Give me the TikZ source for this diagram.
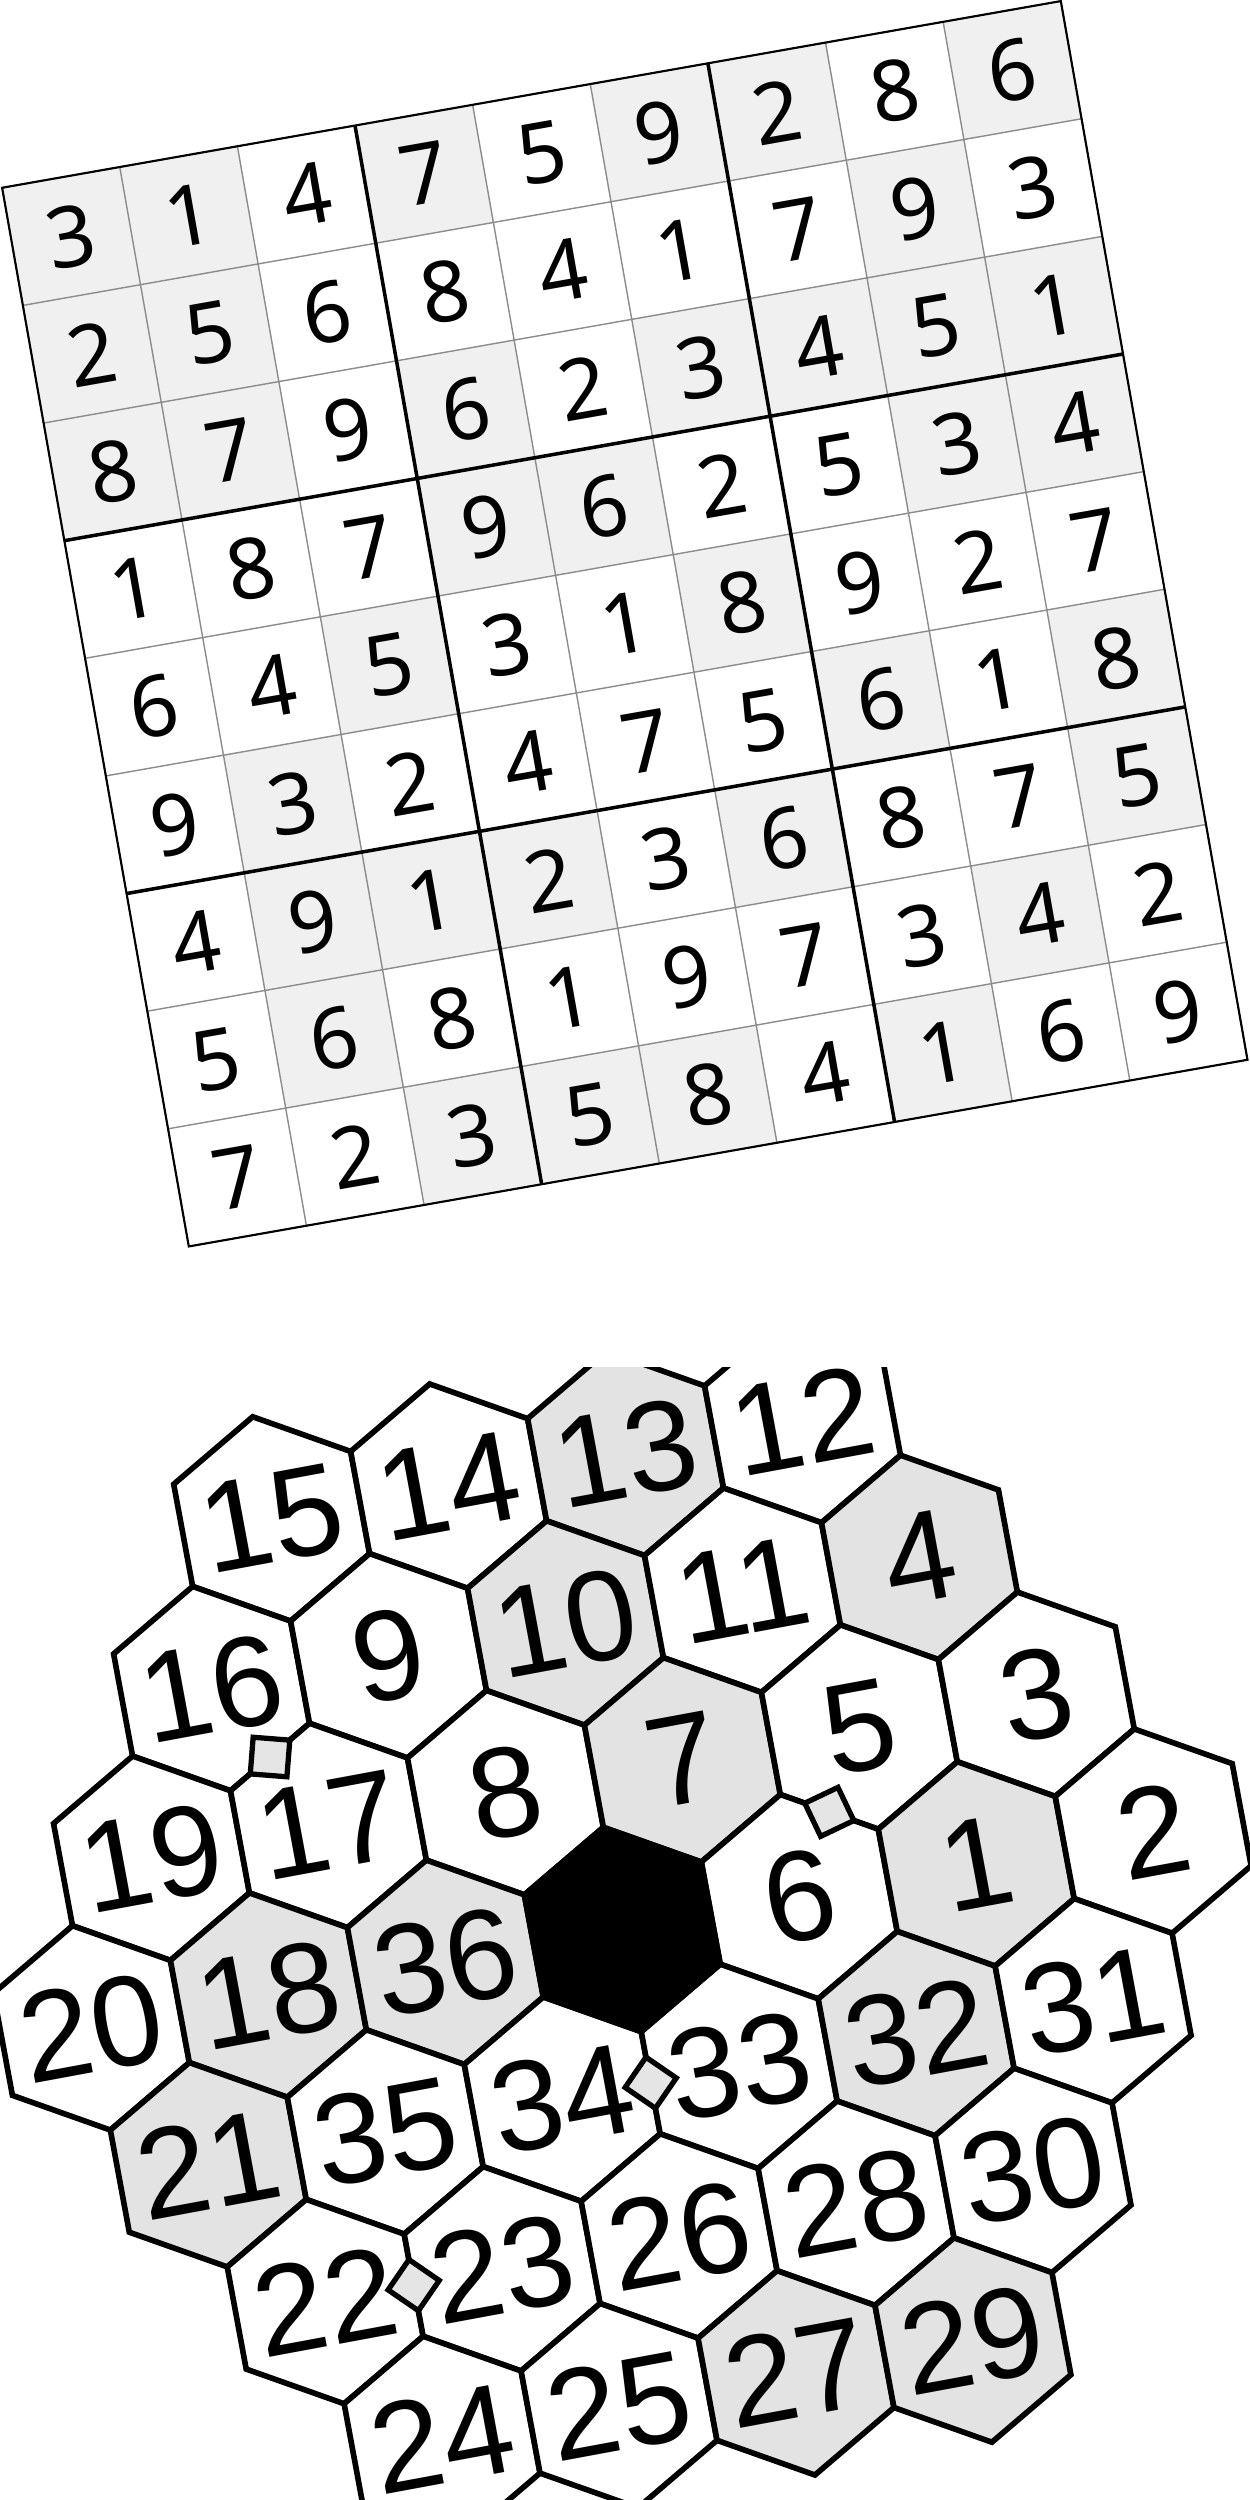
\documentclass[tikz,border=0pt]{standalone}
\usepackage{fontspec}
\setmainfont{Liberation Sans}
\newfontfamily\sudokufont{Noto Sans}
\usetikzlibrary{calc}

\begin{document}
\begin{tikzpicture}[
    shadedcell/.style={
      fill=black!6
    },
    cellline/.style={
      draw=black!45,line width=0.4pt
    },
    boxline/.style={
      draw=black,line width=1pt
    },
    gridborder/.style={
      draw=black,line width=0.6pt
    },
    givendigit/.style={
      inner sep=0pt,font=\sudokufont\fontsize{24}{24}\selectfont
    },
    hexcell/.style={
      draw=black,line width=1.6pt,fill=white
    },
    shadedhex/.style={
      hexcell,fill=black!11
    },
    hexnum/.style={
      inner sep=0pt,font=\fontsize{36.5}{36.5}\selectfont
    },
    dotmark/.style={
      draw=black,line width=1.5pt,fill=black!10
    }]

      \path[fill=white] (0,0) rectangle (12.5,25);

      \begin{scope}[shift={(6.248,18.762)},rotate=10,shift={(-5.375,-5.375)},transform shape]
        \foreach \row [count=\r] in {
          {3/1,1/1,4/0,7/1,5/0,9/1,2/1,8/0,6/1},
          {2/1,5/1,6/0,8/0,4/0,1/0,7/0,9/1,3/0},
          {8/1,7/1,9/0,6/1,2/0,3/1,4/1,5/1,1/1},
          {1/0,8/0,7/0,9/1,6/1,2/0,5/0,3/1,4/1},
          {6/0,4/0,5/1,3/0,1/0,8/1,9/0,2/0,7/0},
          {9/0,3/1,2/0,4/0,7/0,5/0,6/1,1/0,8/1},
          {4/0,9/1,1/1,2/1,3/0,6/1,8/0,7/0,5/1},
          {5/0,6/1,8/0,1/0,9/0,7/0,3/0,4/1,2/0},
          {7/0,2/0,3/1,5/1,8/1,4/0,1/1,6/0,9/0}} {
          \foreach \d/\g [count=\c] in \row {
            \ifnum\g=1
              \fill[shadedcell] ({(\c-1)*1.1944},{(9-\r)*1.1944}) rectangle ++(1.1944,1.1944);
            \fi
            \node[givendigit] (d\r\c) at ({(\c-0.5)*1.1944},{(9.5-\r)*1.1944}) {\d};
          }
        }
        \draw[cellline,step=1.1944] (0,0) grid (10.75,10.75);
        \foreach \k in {1,2} {
          \draw[boxline] ({3*\k*1.1944},0) -- ++(0,10.75);
          \draw[boxline] (0,{3*\k*1.1944}) -- ++(10.75,0);
        }
        \draw[gridborder] (0,0) rectangle (10.75,10.75);
      \end{scope}

      \begin{scope}
        \clip (0,0) rectangle (12.5,11.32);
        \begin{scope}[shift={(6.223,5.705)},rotate=10.5,transform shape]
          \foreach \n/\a/\b/\s in {
            15/-3/3/hexcell,14/-2/3/hexcell,13/-1/3/shadedhex,12/0/3/hexcell,
            16/-3/2/hexcell,9/-2/2/hexcell,10/-1/2/shadedhex,11/0/2/hexcell,4/1/2/shadedhex,
            19/-3/1/hexcell,17/-2/1/hexcell,8/-1/1/hexcell,7/0/1/shadedhex,5/1/1/hexcell,3/2/1/hexcell,
            20/-3/0/hexcell,18/-2/0/shadedhex,36/-1/0/shadedhex,6/1/0/hexcell,1/2/0/shadedhex,2/3/0/hexcell,
            21/-2/-1/shadedhex,35/-1/-1/hexcell,34/0/-1/hexcell,33/1/-1/hexcell,32/2/-1/shadedhex,31/3/-1/hexcell,
            22/-1/-2/hexcell,23/0/-2/hexcell,26/1/-2/hexcell,28/2/-2/hexcell,30/3/-2/hexcell,
            24/0/-3/hexcell,25/1/-3/hexcell,27/2/-3/shadedhex,29/3/-3/shadedhex} {
            \coordinate (c\n) at ({1.8*\a+0.9*\b},{1.5588*\b});
            \draw[\s] (c\n) +(30:1.039) -- +(90:1.039) -- +(150:1.039) -- +(210:1.039)
              -- +(270:1.039) -- +(330:1.039) -- cycle;
            \node[hexnum] (n\n) at (c\n) {\n};
          }
          \coordinate (c0) at (0,0);
          \draw[hexcell,fill=black] (c0) +(30:1.039) -- +(90:1.039) -- +(150:1.039) -- +(210:1.039)
            -- +(270:1.039) -- +(330:1.039) -- cycle;
          \foreach \p/\q/\t in {16/17/30,5/6/60,34/33/0,22/23/0} {
            \coordinate (m\p) at ($(c\p)!0.5!(c\q)$);
            \draw[dotmark] (m\p) +(\t:0.26) -- +({\t+90}:0.26) -- +({\t+180}:0.26)
              -- +({\t+270}:0.26) -- cycle;
          }
        \end{scope}
      \end{scope}
  \end{tikzpicture}
\end{document}
